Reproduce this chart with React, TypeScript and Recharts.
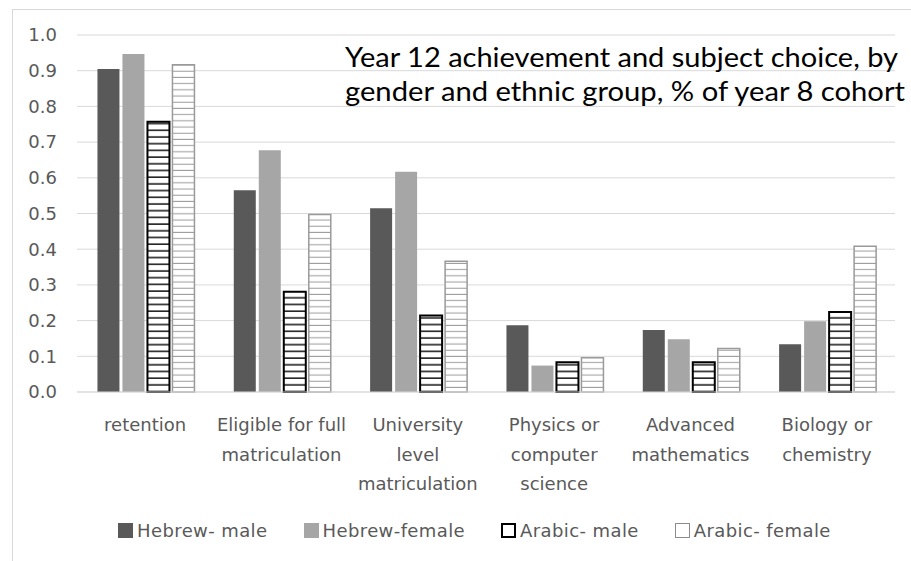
import React from "react";
import { Bar, BarChart, CartesianGrid, Legend, XAxis, YAxis } from "recharts";

const categories = [
  "retention",
  "Eligible for full\nmatriculation",
  "University\nlevel\nmatriculation",
  "Physics or\ncomputer\nscience",
  "Advanced\nmathematics",
  "Biology or\nchemistry",
];

const hebrewMale = [0.905, 0.565, 0.515, 0.187, 0.174, 0.134];
const hebrewFemale = [0.947, 0.677, 0.617, 0.074, 0.148, 0.198];
const arabicMale = [0.757, 0.281, 0.214, 0.083, 0.083, 0.224];
const arabicFemale = [0.917, 0.497, 0.366, 0.096, 0.122, 0.408];

const seriesNames = ["Hebrew- male", "Hebrew-female", "Arabic- male", "Arabic- female"];
const yTicks = [0, 0.1, 0.2, 0.3, 0.4, 0.5, 0.6, 0.7, 0.8, 0.9, 1.0];
const titleLines = [
  "Year 12 achievement and subject choice, by",
  "gender and ethnic group, % of year 8 cohort",
];

const data = categories.map((name, i) => ({
  name,
  hm: hebrewMale[i],
  hf: hebrewFemale[i],
  am: arabicMale[i],
  af: arabicFemale[i],
}));

const labelFont = "DejaVu Sans";
const labelColor = "#595959";

const CategoryTick = (props: any) => {
  const { x, y, payload } = props;
  const lines = String(payload.value).split("\n");
  return (
    <text x={x} y={y} textAnchor="middle" fill={labelColor} fontSize={18} fontFamily={labelFont}>
      {lines.map((line, i) => (
        <tspan key={i} x={x} dy={i === 0 ? 37 : 29.5}>
          {line}
        </tspan>
      ))}
    </text>
  );
};

const swatchStyles: React.CSSProperties[] = [
  { background: "#595959" },
  { background: "#a6a6a6" },
  { background: "#fff", border: "2px solid #000", boxSizing: "border-box" },
  { background: "#fff", border: "1px solid #8c8c8c", boxSizing: "border-box" },
];

const LegendContent = () => (
  <div
    style={{
      display: "flex",
      alignItems: "center",
      height: 24,
      paddingLeft: 118,
      fontFamily: labelFont,
      fontSize: 18,
      letterSpacing: 0.4,
      color: labelColor,
    }}
  >
    {seriesNames.map((name, i) => (
      <div key={name} style={{ display: "flex", alignItems: "center", marginRight: 36 }}>
        <span style={{ display: "inline-block", width: 15, height: 15, marginRight: 4, ...swatchStyles[i] }} />
        <span>{name}</span>
      </div>
    ))}
  </div>
);

export default function App() {
  return (
    <div style={{ position: "relative", width: 911, height: 561, overflow: "hidden", background: "#fff" }}>
      <style>{`body{margin:0}`}</style>
      <div
        style={{
          position: "absolute",
          left: 12,
          top: 9,
          right: -2,
          bottom: -2,
          borderTop: "1px solid #d9d9d9",
          borderLeft: "1px solid #d9d9d9",
        }}
      />
      <div style={{ position: "absolute", left: 0, top: 0 }}>
        <BarChart
          width={911}
          height={561}
          data={data}
          margin={{ top: 35, right: 16, bottom: 19, left: 0 }}
          barCategoryGap="15%"
          barGap={3}
        >
          <defs>
            <pattern id="arabicMaleHatch" patternUnits="userSpaceOnUse" width="8" height="6.7">
              <rect width="8" height="6.7" fill="#fff" />
              <line x1="0" y1="3" x2="8" y2="3" stroke="#000" strokeWidth="1.4" />
            </pattern>
            <pattern id="arabicFemaleHatch" patternUnits="userSpaceOnUse" width="8" height="6.2">
              <rect width="8" height="6.2" fill="#fff" />
              <line x1="0" y1="3" x2="8" y2="3" stroke="#9a9a9a" strokeWidth="1" />
            </pattern>
          </defs>
          <CartesianGrid vertical={false} stroke="#d9d9d9" />
          <XAxis
            dataKey="name"
            interval={0}
            tickLine={false}
            tickSize={0}
            axisLine={{ stroke: "#d9d9d9" }}
            height={126}
            tick={<CategoryTick />}
          />
          <YAxis
            domain={[0, 1]}
            ticks={yTicks}
            width={77}
            axisLine={false}
            tickLine={false}
            tickSize={0}
            tickMargin={20}
            tickFormatter={(v: number) => v.toFixed(1)}
            tick={{ fill: labelColor, fontSize: 18, fontFamily: labelFont }}
          />
          <Legend verticalAlign="bottom" wrapperStyle={{ left: 0, width: 911 }} content={<LegendContent />} />
          <Bar dataKey="hm" name={seriesNames[0]} fill="#595959" isAnimationActive={false} />
          <Bar dataKey="hf" name={seriesNames[1]} fill="#a6a6a6" isAnimationActive={false} />
          <Bar dataKey="am" name={seriesNames[2]} fill="url(#arabicMaleHatch)" stroke="#000" strokeWidth={2} isAnimationActive={false} />
          <Bar dataKey="af" name={seriesNames[3]} fill="url(#arabicFemaleHatch)" stroke="#9a9a9a" strokeWidth={1.5} isAnimationActive={false} />
        </BarChart>
      </div>
      <svg width={911} height={561} style={{ position: "absolute", left: 0, top: 0, pointerEvents: "none" }}>
        <text x={345} y={67} fontFamily="Lato" fontSize={27} fill="#000" textLength={553} lengthAdjust="spacingAndGlyphs">
          {titleLines[0]}
        </text>
        <text x={345} y={101} fontFamily="Lato" fontSize={27} fill="#000" textLength={560} lengthAdjust="spacingAndGlyphs">
          {titleLines[1]}
        </text>
      </svg>
    </div>
  );
}
